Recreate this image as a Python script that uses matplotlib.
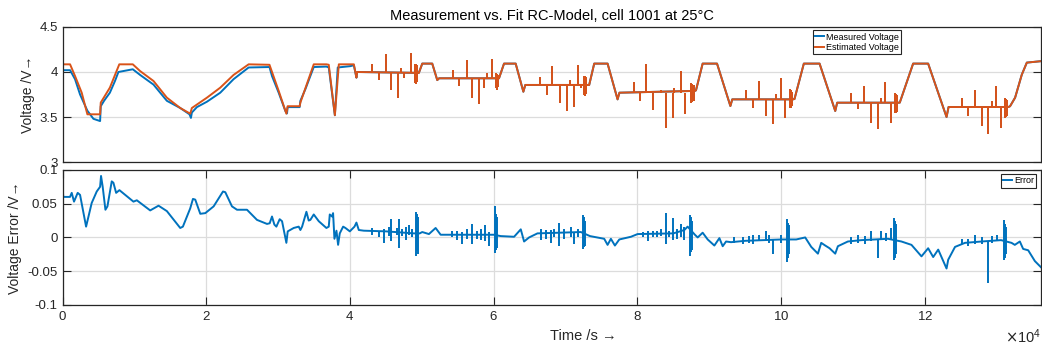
import matplotlib
matplotlib.use("Agg")
import matplotlib.pyplot as plt
import numpy as np
from matplotlib.ticker import FuncFormatter

plt.rcParams['font.family'] = ['Liberation Sans', 'DejaVu Sans']
plt.rcParams['axes.unicode_minus'] = False

# times are read in units of 1e4 s (axis shows x10^4)
meas_t = [0.000, 0.105, 0.174, 0.244, 0.346, 0.430, 0.523, 0.532, 0.578, 0.659,
          0.730, 0.778, 0.978, 1.080, 1.266, 1.452, 1.638, 1.767, 1.787, 1.800,
          1.870, 2.010, 2.195, 2.380, 2.590, 2.880, 2.915, 3.008, 3.101, 3.124,
          3.133, 3.300, 3.310, 3.380, 3.496, 3.672, 3.705, 3.790, 3.830, 4.007,
          4.054, 4.090, 4.100, 4.959, 5.006, 5.145, 5.215, 5.240, 6.074, 6.144,
          6.306, 6.413, 6.440, 7.296, 7.329, 7.399, 7.585, 7.724, 7.750, 8.800,
          8.815, 8.908, 9.108, 9.294, 9.320, 10.163, 10.186, 10.316, 10.535, 10.753,
          10.780, 11.628, 11.651, 11.837, 12.046, 12.302, 12.330, 13.163, 13.186, 13.256,
          13.349, 13.419, 13.640]
meas_v = [4.02, 4.02, 3.92, 3.75, 3.57, 3.48, 3.455, 3.62, 3.68, 3.77,
          3.90, 4.00, 4.03, 3.967, 3.86, 3.68, 3.60, 3.53, 3.49, 3.55,
          3.61, 3.67, 3.77, 3.92, 4.05, 4.055, 3.955, 3.77, 3.567, 3.54,
          3.61, 3.61, 3.68, 3.81, 4.055, 4.06, 4.05, 3.52, 4.05, 4.065,
          4.075, 3.937, 4.00, 3.99, 4.093, 4.093, 3.91, 3.93, 3.93, 4.093,
          4.093, 3.781, 3.856, 3.856, 3.856, 4.093, 4.093, 3.696, 3.77, 3.79,
          3.796, 4.093, 4.093, 3.622, 3.696, 3.696, 3.70, 4.093, 4.093, 3.567,
          3.659, 3.659, 3.66, 4.093, 4.093, 3.50, 3.611, 3.611, 3.62, 3.715,
          3.97, 4.104, 4.122]

# estimated voltage differs from the measurement only in the first part
est_t_early = [0.000, 0.105, 0.174, 0.267, 0.346, 0.523, 0.532, 0.659, 0.790, 0.978,
               1.080, 1.266, 1.452, 1.638, 1.777, 1.800, 2.010, 2.195, 2.380, 2.590,
               2.880, 3.008, 3.115, 3.133, 3.300, 3.310, 3.380, 3.496, 3.672, 3.705,
               3.790, 3.845, 4.054]
est_v_early = [4.085, 4.085, 3.955, 3.77, 3.53, 3.53, 3.66, 3.826, 4.085, 4.085,
               4.01, 3.90, 3.715, 3.60, 3.537, 3.60, 3.715, 3.826, 3.967, 4.085,
               4.08, 3.79, 3.537, 3.62, 3.62, 3.66, 3.82, 4.085, 4.085, 4.08,
               3.52, 4.085, 4.085]

# current pulses: short vertical spikes in the voltage
spike_t = [4.309, 4.402, 4.495, 4.578, 4.667, 4.704, 4.750, 4.843, 4.905, 4.920, 4.935,
           5.438, 5.517, 5.624, 5.703, 5.796, 5.866, 5.912, 5.982, 6.035, 6.050, 6.065,
           6.641, 6.739, 6.818, 6.920, 7.018, 7.064, 7.120, 7.176, 7.222, 7.262, 7.275, 7.290,
           7.947, 8.040, 8.119, 8.221, 8.328, 8.398, 8.491, 8.514, 8.607, 8.663, 8.746, 8.765, 8.785,
           9.512, 9.606, 9.699, 9.792, 9.885, 9.931, 9.992, 10.057, 10.120, 10.135, 10.150,
           10.976, 11.070, 11.153, 11.255, 11.348, 11.386, 11.441, 11.525, 11.585, 11.600, 11.615,
           12.512, 12.605, 12.698, 12.790, 12.884, 12.930, 12.986, 13.061, 13.120, 13.135, 13.150]
spike_lo = [4.00, 3.907, 4.00, 3.796, 3.715, 3.99, 3.93, 3.99, 3.88, 3.87, 3.89,
            3.93, 3.844, 3.93, 3.715, 3.641, 3.826, 3.93, 3.93, 3.82, 3.80, 3.83,
            3.856, 3.744, 3.856, 3.659, 3.567, 3.856, 3.611, 3.856, 3.819, 3.744, 3.73, 3.76,
            3.77, 3.678, 3.77, 3.574, 3.77, 3.381, 3.493, 3.77, 3.77, 3.53, 3.659, 3.67, 3.68,
            3.696, 3.596, 3.696, 3.511, 3.419, 3.696, 3.696, 3.485, 3.596, 3.60, 3.62,
            3.659, 3.585, 3.659, 3.437, 3.363, 3.659, 3.659, 3.437, 3.548, 3.55, 3.56,
            3.611, 3.511, 3.611, 3.40, 3.307, 3.611, 3.611, 3.381, 3.493, 3.50, 3.51]
spike_hi = [4.093, 4.00, 4.196, 4.00, 4.00, 4.048, 3.99, 4.207, 4.09, 4.09, 4.08,
            4.022, 3.93, 4.13, 3.93, 3.93, 3.93, 3.99, 4.141, 3.99, 3.98, 3.97,
            3.944, 3.856, 4.067, 3.856, 3.856, 3.907, 3.856, 4.078, 3.856, 3.956, 3.95, 3.94,
            3.889, 3.77, 4.093, 3.77, 3.80, 3.77, 3.77, 3.826, 4.011, 3.77, 3.881, 3.87, 3.86,
            3.796, 3.696, 3.90, 3.696, 3.696, 3.752, 3.93, 3.696, 3.807, 3.80, 3.78,
            3.77, 3.659, 3.844, 3.659, 3.659, 3.715, 3.888, 3.659, 3.77, 3.76, 3.75,
            3.707, 3.611, 3.80, 3.611, 3.611, 3.678, 3.844, 3.611, 3.707, 3.70, 3.69]

err_t = [0.000, 0.010, 0.104, 0.128, 0.160, 0.211, 0.244, 0.328, 0.406, 0.476,
         0.523, 0.536, 0.559, 0.597, 0.625, 0.685, 0.708, 0.746, 0.792, 0.987,
         1.034, 1.220, 1.336, 1.452, 1.638, 1.675, 1.777, 1.815, 1.847, 1.917,
         1.987, 2.103, 2.233, 2.265, 2.358, 2.428, 2.567, 2.706, 2.846, 2.883,
         2.915, 2.948, 2.976, 3.022, 3.055, 3.115, 3.134, 3.217, 3.287, 3.310,
         3.334, 3.394, 3.426, 3.449, 3.496, 3.566, 3.672, 3.705, 3.719, 3.751,
         3.765, 3.784, 3.812, 3.835, 3.858, 3.905, 3.937, 3.998,
         4.063, 4.090, 4.123, 4.193, 4.500, 4.890, 4.970, 5.006, 5.099, 5.192,
         5.262, 6.000, 6.098, 6.284, 6.377, 6.423, 6.493, 6.609, 7.213, 7.340,
         7.538, 7.585, 7.631, 7.687, 7.748, 7.910, 8.003, 8.500, 8.653, 8.699,
         8.800, 8.839, 8.908, 8.978, 9.071, 9.141, 9.187, 9.234, 9.303, 9.500,
         10.000, 10.210, 10.335, 10.419, 10.512, 10.558, 10.614, 10.674, 10.753, 10.790,
         10.929, 11.115, 11.487, 11.674, 11.814, 11.953, 12.046, 12.116, 12.186, 12.302,
         12.325, 12.420, 12.559, 12.791, 13.060, 13.206, 13.252, 13.322, 13.368, 13.438,
         13.531, 13.615]
err_v = [0.078, 0.060, 0.060, 0.066, 0.053, 0.066, 0.063, 0.016, 0.051, 0.068,
         0.075, 0.091, 0.075, 0.041, 0.046, 0.083, 0.081, 0.066, 0.070, 0.053,
         0.055, 0.040, 0.047, 0.039, 0.014, 0.016, 0.043, 0.057, 0.056, 0.035,
         0.036, 0.046, 0.068, 0.067, 0.046, 0.041, 0.041, 0.026, 0.020, 0.021,
         0.031, 0.019, 0.016, 0.027, 0.024, -0.008, 0.009, 0.014, 0.016, 0.011,
         0.016, 0.038, 0.025, 0.026, 0.034, 0.024, 0.014, 0.016, 0.034, 0.031,
         0.036, -0.002, 0.010, -0.011, 0.006, 0.016, 0.014, 0.009,
         0.016, 0.022, 0.011, 0.010, 0.009, 0.006, 0.006, 0.008, 0.005, 0.014,
         0.004, 0.004, 0.002, 0.001, 0.012, -0.006, 0.000, 0.006, 0.008, 0.002,
         -0.002, -0.011, -0.002, -0.012, -0.003, 0.001, 0.005, 0.006, 0.011, 0.016,
         0.004, 0.000, 0.007, -0.003, -0.012, -0.001, -0.013, -0.006, -0.007, -0.005,
         -0.003, -0.003, 0.000, -0.014, -0.024, -0.008, -0.012, -0.016, -0.024, -0.013,
         -0.006, -0.004, -0.002, -0.006, -0.011, -0.028, -0.016, -0.029, -0.018, -0.046,
         -0.033, -0.014, -0.008, -0.006, -0.004, -0.008, -0.011, -0.006, -0.017, -0.019,
         -0.035, -0.044]

err_spike_t = [4.309, 4.402, 4.472, 4.542, 4.578, 4.648, 4.681, 4.727, 4.774, 4.820, 4.866, 4.915, 4.930, 4.945,
               5.424, 5.494, 5.564, 5.624, 5.703, 5.764, 5.820, 5.875, 5.935, 6.020, 6.035, 6.050,
               6.656, 6.725, 6.795, 6.841, 6.911, 6.981, 7.074, 7.120, 7.176, 7.245, 7.260, 7.275,
               8.073, 8.142, 8.212, 8.273, 8.328, 8.398, 8.444, 8.491, 8.551, 8.607, 8.653, 8.730, 8.745, 8.760,
               9.350, 9.466, 9.559, 9.606, 9.699, 9.792, 9.838, 9.885, 10.001, 10.075, 10.090, 10.105,
               10.976, 11.070, 11.162, 11.246, 11.348, 11.395, 11.464, 11.525, 11.565, 11.580, 11.595,
               12.512, 12.605, 12.698, 12.790, 12.874, 12.930, 13.000, 13.095, 13.110, 13.125]
err_spike_lo = [0.004, 0.000, -0.008, 0.002, -0.006, 0.003, -0.016, 0.002, -0.004, 0.004, 0.000, -0.028, -0.020, -0.025,
                0.000, -0.004, -0.010, -0.002, -0.010, -0.002, -0.004, -0.006, -0.012, -0.023, -0.018, -0.015,
                -0.004, -0.002, -0.008, 0.000, -0.013, -0.003, 0.000, -0.010, 0.000, -0.017, -0.014, -0.012,
                0.000, -0.005, 0.000, 0.000, 0.002, -0.010, 0.000, -0.004, -0.002, 0.000, -0.004, -0.028, -0.022, -0.018,
                -0.008, -0.009, -0.008, -0.010, -0.006, -0.006, -0.008, -0.025, -0.008, -0.037, -0.030, -0.025,
                -0.010, -0.008, -0.009, -0.006, -0.030, -0.004, -0.006, -0.004, -0.033, -0.030, -0.025,
                -0.010, -0.012, -0.010, -0.010, -0.068, -0.008, -0.006, -0.033, -0.030, -0.025]
err_spike_hi = [0.014, 0.010, 0.012, 0.016, 0.027, 0.014, 0.028, 0.012, 0.015, 0.018, 0.012, 0.038, 0.035, 0.030,
                0.010, 0.009, 0.008, 0.012, 0.020, 0.010, 0.012, 0.018, 0.008, 0.046, 0.035, 0.030,
                0.012, 0.011, 0.011, 0.012, 0.022, 0.012, 0.015, 0.008, 0.012, 0.033, 0.030, 0.025,
                0.008, 0.010, 0.009, 0.010, 0.012, 0.036, 0.010, 0.029, 0.012, 0.020, 0.016, 0.033, 0.030, 0.025,
                0.000, 0.000, 0.002, 0.004, 0.003, 0.009, 0.004, -0.003, 0.004, 0.027, 0.022, 0.018,
                0.000, 0.004, 0.002, 0.009, -0.002, 0.010, 0.006, 0.014, 0.029, 0.024, 0.020,
                -0.002, -0.002, 0.003, 0.000, -0.006, 0.002, 0.004, 0.026, 0.020, 0.016]

blue = '#0072BD'
orange = '#D95319'
dark = '#262626'
lw = 1.4

fig = plt.figure(figsize=(10.42, 3.5), dpi=100)
ax1 = fig.add_axes([0.06, 0.537, 0.9386, 0.386])
ax2 = fig.add_axes([0.06, 0.1286, 0.9386, 0.386])

mt = np.array(meas_t) * 1e4
mv = np.array(meas_v)
late = mt > 4.06e4
et = np.concatenate([np.array(est_t_early) * 1e4, mt[late]])
ev = np.concatenate([est_v_early, mv[late]])
st = np.array(spike_t) * 1e4

h1, = ax1.plot(mt, mv, color=blue, lw=lw, label='Measured Voltage')
ax1.vlines(st, spike_lo, spike_hi, color=blue, lw=lw)
h2, = ax1.plot(et, ev, color=orange, lw=lw, label='Estimated Voltage')
ax1.vlines(st, spike_lo, spike_hi, color=orange, lw=lw)

h3, = ax2.plot(np.array(err_t) * 1e4, err_v, color=blue, lw=lw, label='Error')
ax2.vlines(np.array(err_spike_t) * 1e4, err_spike_lo, err_spike_hi, color=blue, lw=lw)

gfmt = FuncFormatter(lambda v, p: '%g' % v)
for ax in (ax1, ax2):
    ax.set_xlim(0, 136100)
    for s in ax.spines.values():
        s.set_color(dark)
        s.set_linewidth(0.9)
    ax.tick_params(direction='in', length=6, width=0.8, top=True, right=True,
                   colors=dark, labelsize=9.5, labelcolor=dark)
    ax.yaxis.set_major_formatter(gfmt)
    ax.set_axisbelow(True)

ax1.set_ylim(3, 4.5)
ax1.set_yticks([3, 3.5, 4, 4.5])
ax1.set_xticks([])
ax1.grid(axis='y', color='#dcdcdc', lw=0.9)
ax1.set_ylabel('Voltage /V→', fontsize=10, color=dark)
ax1.yaxis.set_label_coords(-0.028, 0.5)
ax1.set_title('Measurement vs. Fit RC-Model, cell 1001 at 25°C', fontsize=10.5, color='black', pad=5)
ax1.legend(handles=[h1, h2], loc='upper left', bbox_to_anchor=(0.767, 0.975), borderaxespad=0,
           fontsize=6.5, handlelength=1.0, handletextpad=0.2, borderpad=0.25, labelspacing=0.15,
           fancybox=False, edgecolor=dark, framealpha=1).get_frame().set_linewidth(0.8)

ax2.set_ylim(-0.1, 0.1)
ax2.set_yticks([-0.1, -0.05, 0, 0.05, 0.1])
ax2.set_xticks(np.arange(0, 13, 2) * 1e4)
ax2.ticklabel_format(axis='x', style='sci', scilimits=(4, 4), useMathText=True)
ax2.xaxis.get_offset_text().set_fontsize(10.5)
ax2.xaxis.get_offset_text().set_color(dark)
ax2.grid(color='#dcdcdc', lw=0.9)
ax2.set_ylabel('Voltage Error /V→', fontsize=10, color=dark)
ax2.yaxis.set_label_coords(-0.041, 0.5)
ax2.set_xlabel('Time /s →', fontsize=10.5, color=dark)
ax2.xaxis.set_label_coords(0.532, -0.18)
ax2.legend(handles=[h3], loc='upper right', bbox_to_anchor=(0.9954, 0.968), borderaxespad=0,
           fontsize=6.5, handlelength=1.0, handletextpad=0.2, borderpad=0.25,
           fancybox=False, edgecolor=dark, framealpha=1).get_frame().set_linewidth(0.8)

fig.savefig('out.png', dpi=100)
